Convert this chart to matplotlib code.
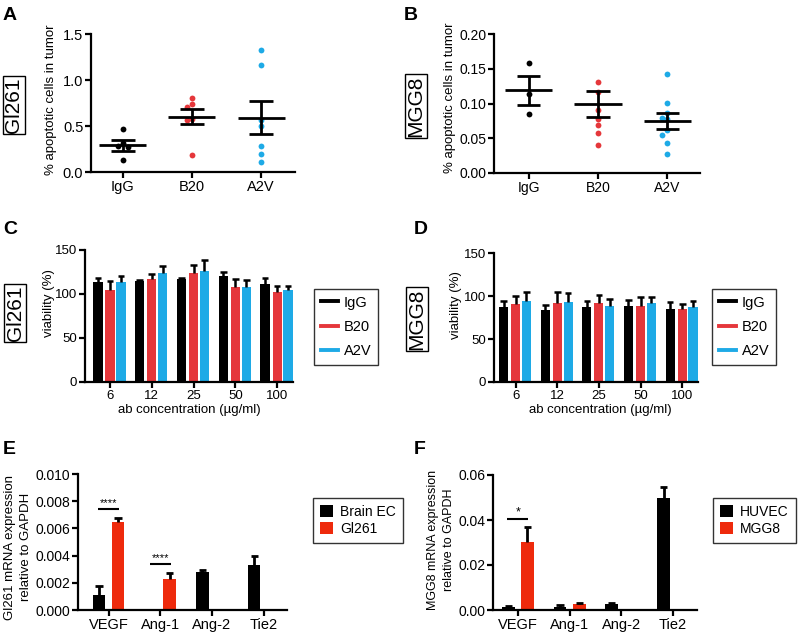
import numpy as np
import matplotlib
matplotlib.use("Agg")
import matplotlib.pyplot as plt
from matplotlib.lines import Line2D
from matplotlib.patches import Patch
from matplotlib import font_manager

# ---------------- data ----------------
groups_ab = ["IgG", "B20", "A2V"]
a_igg = [0.47, 0.31, 0.28, 0.27, 0.13]
a_b20 = [0.80, 0.74, 0.71, 0.58, 0.56, 0.18]
a_a2v = [1.33, 1.16, 0.56, 0.50, 0.28, 0.20, 0.11]
a_mean = [0.29, 0.60, 0.59]
a_sem = [0.058, 0.08, 0.18]

b_igg = [0.158, 0.113, 0.085]
b_b20 = [0.131, 0.117, 0.091, 0.077, 0.069, 0.057, 0.041]
b_a2v = [0.142, 0.101, 0.086, 0.079, 0.077, 0.062, 0.055, 0.043, 0.027]
b_mean = [0.119, 0.099, 0.075]
b_sem = [0.021, 0.0185, 0.0115]

conc = ["6", "12", "25", "50", "100"]
c_igg = [114, 115, 116.6, 121, 111]
c_igg_err = [4.5, 0.5, 1.1, 4, 7.5]
c_b20 = [105, 117, 123.4, 107.5, 102.5]
c_b20_err = [10, 5.7, 9.6, 9.1, 6.9]
c_a2v = [114, 123.4, 126, 107.5, 104]
c_a2v_err = [6, 8.6, 12.6, 8.5, 5]

d_igg = [87.7, 83.8, 87.7, 88.8, 85]
d_igg_err = [7, 5.4, 6.2, 6.6, 7.7]
d_b20 = [90.8, 92.3, 92.3, 88.4, 84.5]
d_b20_err = [9.7, 12.7, 9.4, 10.9, 6.3]
d_a2v = [94.7, 93.5, 88.8, 91.5, 87.7]
d_a2v_err = [10.1, 10.1, 8.2, 7.8, 7]

genes = ["VEGF", "Ang-1", "Ang-2", "Tie2"]
e_brain = [0.0011, 0.0001, 0.00283, 0.0033]
e_brain_err = [0.0007, 0.0, 0.00012, 0.0007]
e_gl261 = [0.00646, 0.00226, 0.0, 0.0]
e_gl261_err = [0.0003, 0.00044, 0.0, 0.0]

f_huvec = [0.0015, 0.0012, 0.0027, 0.0496]
f_huvec_err = [0.0004, 0.001, 0.0003, 0.0052]
f_mgg8 = [0.0304, 0.0028, 0.0, 0.0]
f_mgg8_err = [0.0063, 0.0005, 0.0, 0.0]

# ---------------- style ----------------
W, H = 802, 637
names = {f.name for f in font_manager.fontManager.ttflist}
NARROW = "Liberation Sans Narrow" if "Liberation Sans Narrow" in names else "Liberation Sans"
REG = "Liberation Sans"
plt.rcParams["font.family"] = [NARROW, "DejaVu Sans"]

BLACK = "#000000"
RED = "#e5373b"
BLUE = "#1eaae6"
RED2 = "#ee2a0c"

fig = plt.figure(figsize=(W / 100, H / 100), dpi=100)


def add_ax(l, t, r, b):
    return fig.add_axes([l / W, 1 - b / H, (r - l) / W, (b - t) / H])


def style(ax, fs=10.0):
    for s in ["top", "right"]:
        ax.spines[s].set_visible(False)
    for s in ["left", "bottom"]:
        ax.spines[s].set_linewidth(1.6)
    ax.tick_params(width=1.6, length=4, labelsize=fs, pad=1.5)


def ftext(x, y, s, **kw):
    return fig.text(x / W, 1 - y / H, s, **kw)


def swarm_x(ax, xc, vals, diam=5.8):
    placed, xs = [], []
    inv = ax.transData.inverted()
    for v in vals:
        px, py = ax.transData.transform((xc, v))
        cx = px
        for k in [0, -1, 1, -2, 2, -3, 3]:
            cx = px + k * diam * 0.9
            if all((cx - qx) ** 2 + (py - qy) ** 2 >= (diam * 0.9) ** 2 for qx, qy in placed):
                break
        placed.append((cx, py))
        xs.append(inv.transform((cx, py))[0])
    return xs


def scatter_panel(ax, pts, means, sems, xlim, ylim, yticks, fmt, fs):
    ax.set_xlim(*xlim)
    ax.set_ylim(*ylim)
    cols = [BLACK, RED, BLUE]
    for i, (vals, c) in enumerate(zip(pts, cols)):
        xs = swarm_x(ax, i, vals)
        ax.plot(xs, vals, "o", color=c, ms=4.2, mec="none", zorder=2, clip_on=False)
        m, s = means[i], sems[i]
        ax.hlines(m, i - 0.34, i + 0.34, color="k", lw=2, zorder=3)
        ax.vlines(i, m - s, m + s, color="k", lw=2, zorder=3)
        ax.hlines([m - s, m + s], i - 0.17, i + 0.17, color="k", lw=2, zorder=3)
    ax.set_xticks(range(3))
    ax.set_xticklabels(groups_ab)
    ax.set_yticks(yticks)
    ax.set_yticklabels([fmt.format(v) for v in yticks])
    style(ax, fs)


def grouped_bars(ax, series, errs, colors, offsets, width, capw, xlim, lw=1.8):
    x = np.arange(len(series[0]))
    for vals, err, c, off in zip(series, errs, colors, offsets):
        vals = np.asarray(vals, float)
        err = np.asarray(err, float)
        ax.bar(x + off, vals, width, color=c, zorder=2)
        m = err > 0
        ax.vlines((x + off)[m], vals[m], (vals + err)[m], color="k", lw=lw, zorder=3)
        ax.hlines((vals + err)[m], (x + off - capw)[m], (x + off + capw)[m], color="k", lw=lw, zorder=3)
    ax.set_xlim(*xlim)


# ---------------- Panel A ----------------
axA = add_ax(91, 34, 295, 172)
scatter_panel(axA, [a_igg, a_b20, a_a2v], a_mean, a_sem, (-0.46, 2.49), (0, 1.5),
              [0, 0.5, 1.0, 1.5], "{:.1f}", 10.5)
ftext(51, 100, "% apoptotic cells in tumor", rotation=90, ha="center", va="center", fontsize=9.5)

# ---------------- Panel B ----------------
axB = add_ax(494, 34, 700, 173)
scatter_panel(axB, [b_igg, b_b20, b_a2v], b_mean, b_sem, (-0.5, 2.47), (0, 0.20),
              [0, 0.05, 0.10, 0.15, 0.20], "{:.2f}", 10)
ftext(450, 98, "% apoptotic cells in tumor", rotation=90, ha="center", va="center", fontsize=9.5)

# ---------------- Panel C ----------------
offs3 = [-0.29, 0.0, 0.26]
axC = add_ax(85, 250, 293, 382)
grouped_bars(axC, [c_igg, c_b20, c_a2v], [c_igg_err, c_b20_err, c_a2v_err],
             [BLACK, RED, BLUE], offs3, 0.22, 0.08, (-0.6, 4.38))
axC.set_ylim(0, 150)
axC.set_yticks([0, 50, 100, 150])
axC.set_xticks(range(5))
axC.set_xticklabels(conc)
style(axC, 9.5)
ftext(49, 303, "viability (%)", rotation=90, ha="center", va="center", fontsize=9.5)
ftext(189, 410, "ab concentration (\u00b5g/ml)", ha="center", va="center", fontsize=9.5)

# ---------------- Panel D ----------------
axD = add_ax(494, 253, 698, 382)
grouped_bars(axD, [d_igg, d_b20, d_a2v], [d_igg_err, d_b20_err, d_a2v_err],
             [BLACK, RED, BLUE], offs3, 0.22, 0.08, (-0.52, 4.38))
axD.set_ylim(0, 150)
axD.set_yticks([0, 50, 100, 150])
axD.set_xticks(range(5))
axD.set_xticklabels(conc)
style(axD, 9.5)
ftext(456, 305, "viability (%)", rotation=90, ha="center", va="center", fontsize=9.5)
ftext(600, 410, "ab concentration (\u00b5g/ml)", ha="center", va="center", fontsize=9.5)

# legends C & D
for (lx, ly) in [(314, 289), (712, 289)]:
    hs = [Line2D([], [], color=c, lw=2.8) for c in [BLACK, RED, BLUE]]
    lg = fig.legend(hs, groups_ab, loc="upper left", bbox_to_anchor=(lx / W, 1 - ly / H),
                    frameon=True, fancybox=False, edgecolor="k", fontsize=10.5,
                    handlelength=1.2, handletextpad=0.4, borderpad=0.45,
                    labelspacing=0.7, borderaxespad=0)
    lg.get_frame().set_linewidth(1.0)

# ---------------- Panel E ----------------
offs2 = [-0.185, 0.185]
axE = add_ax(78, 474, 287, 610)
grouped_bars(axE, [e_brain, e_gl261], [e_brain_err, e_gl261_err], [BLACK, RED2],
             offs2, 0.245, 0.07, (-0.59, 3.45), lw=2)
axE.set_ylim(0, 0.010)
ey = [0, 0.002, 0.004, 0.006, 0.008, 0.010]
axE.set_yticks(ey)
axE.set_yticklabels(["{:.3f}".format(v) for v in ey])
axE.set_xticks(range(4))
axE.set_xticklabels(genes)
style(axE, 10)
axE.tick_params(axis="x", labelsize=10.5)
ftext(18, 547, "Gl261 mRNA expression\nrelative to GAPDH", rotation=90, ha="center",
      va="center", fontsize=9.5, linespacing=1.4)
for gi, yv in [(0, 0.00743), (1, 0.00338)]:
    axE.hlines(yv, gi - 0.2, gi + 0.2, color="k", lw=1.5, clip_on=False)
    axE.text(gi, yv + 0.00008, "****", ha="center", va="bottom", fontsize=8)

lgE = fig.legend([Patch(fc=BLACK), Patch(fc=RED2)], ["Brain EC", "Gl261"], loc="upper left",
                 bbox_to_anchor=(313 / W, 1 - 498 / H), frameon=True, fancybox=False,
                 edgecolor="k", fontsize=10, handlelength=0.95, handleheight=0.95,
                 handletextpad=0.5, borderpad=0.5, labelspacing=0.2, borderaxespad=0)
lgE.get_frame().set_linewidth(1.0)

# ---------------- Panel F ----------------
axF = add_ax(493, 475, 697, 610)
grouped_bars(axF, [f_huvec, f_mgg8], [f_huvec_err, f_mgg8_err], [BLACK, RED2],
             offs2, 0.245, 0.07, (-0.48, 3.46), lw=2)
axF.set_ylim(0, 0.06)
fy = [0, 0.02, 0.04, 0.06]
axF.set_yticks(fy)
axF.set_yticklabels(["{:.2f}".format(v) for v in fy])
axF.set_xticks(range(4))
axF.set_xticklabels(genes)
style(axF, 10)
axF.tick_params(axis="x", labelsize=10.5)
ftext(441, 540, "MGG8 mRNA expression\nrelative to GAPDH", rotation=90, ha="center",
      va="center", fontsize=9, linespacing=1.4)
axF.hlines(0.0404, -0.2, 0.2, color="k", lw=1.5)
axF.text(0, 0.0404 + 0.0004, "*", ha="center", va="bottom", fontsize=9)

lgF = fig.legend([Patch(fc=BLACK), Patch(fc=RED2)], ["HUVEC", "MGG8"], loc="upper left",
                 bbox_to_anchor=(713 / W, 1 - 498 / H), frameon=True, fancybox=False,
                 edgecolor="k", fontsize=10, handlelength=0.95, handleheight=0.95,
                 handletextpad=0.5, borderpad=0.5, labelspacing=0.2, borderaxespad=0)
lgF.get_frame().set_linewidth(1.0)

# ---------------- boxed side labels & panel letters ----------------
box = dict(boxstyle="square,pad=0.08", fc="white", ec="black", lw=1.0)
for x, y, s in [(14, 105, "Gl261"), (416, 106, "MGG8"), (15, 313, "Gl261"), (417, 319, "MGG8")]:
    ftext(x, y, s, rotation=90, ha="center", va="center", fontsize=15, family=REG, bbox=box)

for x, y, s in [(3, 15, "A"), (404, 15, "B"), (3, 230, "C"), (414, 230, "D"),
                (3, 449, "E"), (414, 449, "F")]:
    ftext(x, y, s, ha="left", va="center", fontsize=14, fontweight="bold", family=REG)

fig.savefig("out.png", dpi=100)
